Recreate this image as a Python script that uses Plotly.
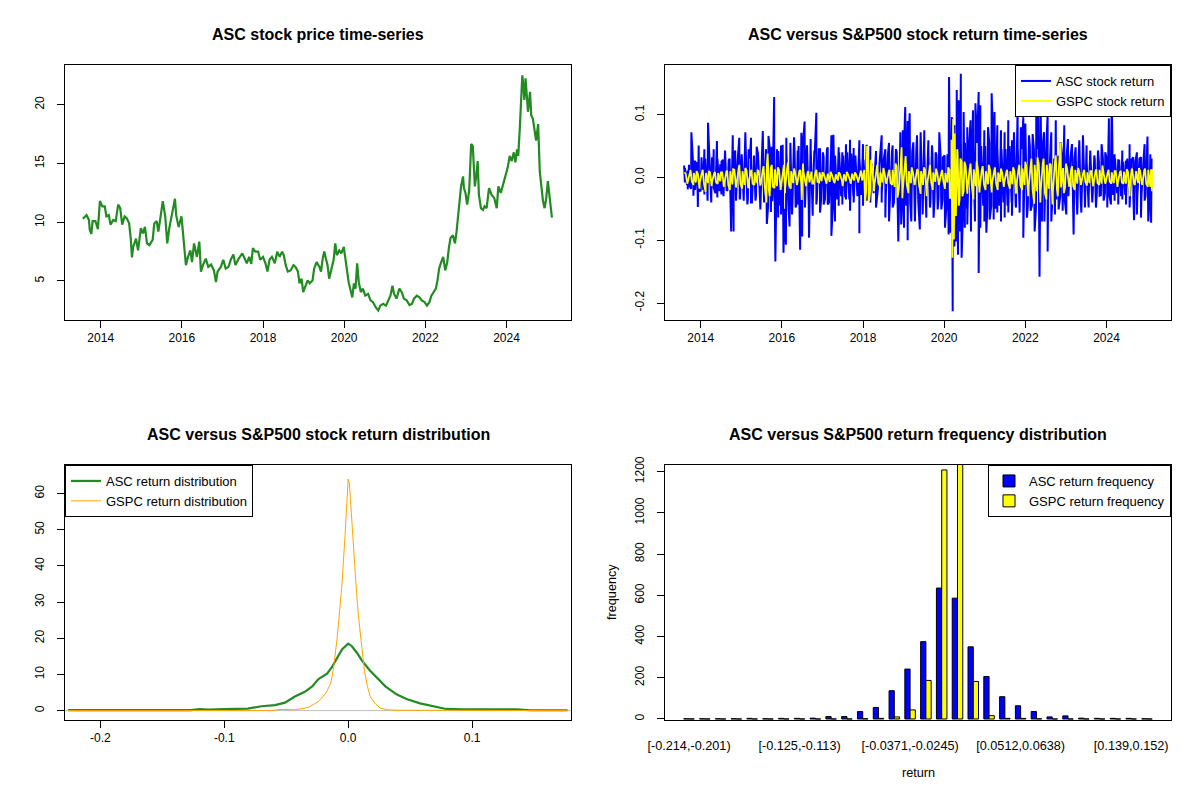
import numpy as np
import plotly.graph_objects as go

# ---- ASC closing price (decimal year, USD) ----
price_t = [2013.56, 2013.65, 2013.71, 2013.73, 2013.77, 2013.80, 2013.87, 2013.93, 2013.98, 2014.04,
           2014.10, 2014.14, 2014.20, 2014.24, 2014.31, 2014.37, 2014.43, 2014.48, 2014.53, 2014.59,
           2014.64, 2014.70, 2014.74, 2014.77, 2014.80, 2014.87, 2014.92, 2014.99, 2015.04, 2015.09,
           2015.14, 2015.20, 2015.28, 2015.32, 2015.38, 2015.42, 2015.47, 2015.53, 2015.59, 2015.64,
           2015.69, 2015.74, 2015.79, 2015.83, 2015.86, 2015.92, 2015.99, 2016.03, 2016.05, 2016.10,
           2016.15, 2016.21, 2016.25, 2016.30, 2016.37, 2016.43, 2016.47, 2016.52, 2016.59, 2016.65,
           2016.72, 2016.79, 2016.84, 2016.88, 2016.96, 2017.02, 2017.08, 2017.15, 2017.21, 2017.27,
           2017.32, 2017.40, 2017.49, 2017.54, 2017.60, 2017.66, 2017.71, 2017.75, 2017.81, 2017.88,
           2017.93, 2018.00, 2018.06, 2018.11, 2018.16, 2018.22, 2018.29, 2018.35, 2018.41, 2018.47,
           2018.51, 2018.56, 2018.61, 2018.68, 2018.75, 2018.80, 2018.86, 2018.90, 2018.95, 2018.99,
           2019.04, 2019.10, 2019.15, 2019.22, 2019.26, 2019.32, 2019.39, 2019.43, 2019.47, 2019.51,
           2019.55, 2019.59, 2019.63, 2019.69, 2019.74, 2019.78, 2019.82, 2019.88, 2019.93, 2019.99,
           2020.03, 2020.07, 2020.11, 2020.16, 2020.20, 2020.24, 2020.28, 2020.32, 2020.36, 2020.41,
           2020.46, 2020.52, 2020.59, 2020.65, 2020.71, 2020.78, 2020.84, 2020.89, 2020.96, 2021.03,
           2021.09, 2021.14, 2021.19, 2021.23, 2021.29, 2021.36, 2021.42, 2021.47, 2021.54, 2021.61,
           2021.67, 2021.72, 2021.79, 2021.86, 2021.91, 2021.98, 2022.04, 2022.10, 2022.15, 2022.20,
           2022.26, 2022.30, 2022.34, 2022.39, 2022.44, 2022.49, 2022.54, 2022.58, 2022.62, 2022.68,
           2022.73, 2022.77, 2022.81, 2022.84, 2022.88, 2022.93, 2022.95, 2022.99, 2023.03, 2023.08,
           2023.10, 2023.13, 2023.17, 2023.22, 2023.26, 2023.29, 2023.32, 2023.37, 2023.42, 2023.46,
           2023.51, 2023.57, 2023.63, 2023.70, 2023.76, 2023.80, 2023.86, 2023.92, 2023.97, 2024.03,
           2024.08, 2024.13, 2024.18, 2024.22, 2024.26, 2024.29, 2024.33, 2024.35, 2024.39, 2024.42,
           2024.44, 2024.47, 2024.50, 2024.53, 2024.58, 2024.61, 2024.65, 2024.69, 2024.73, 2024.78,
           2024.82, 2024.86, 2024.90, 2024.94, 2024.98, 2025.02, 2025.07, 2025.11, 2025.12]
price = [10.3, 10.6, 10.2, 9.35, 9.0, 10.1, 10.1, 9.4, 11.8, 11.35,
         11.35, 10.5, 10.6, 9.8, 10.2, 10.1, 11.5, 11.2, 9.8, 10.5,
         10.35, 9.9, 8.65, 7.0, 7.9, 8.6, 7.6, 9.5, 9.05, 9.6,
         8.2, 8.05, 8.5, 9.9, 10.1, 9.2, 10.35, 11.8, 10.5, 8.2,
         9.5, 10.5, 11.2, 12.0, 10.6, 9.6, 10.5, 8.9, 7.8, 6.35,
         7.05, 7.6, 6.6, 8.2, 7.05, 8.35, 5.8, 6.35, 6.9, 6.2,
         6.4, 5.9, 4.9, 5.8, 6.2, 6.8, 6.05, 6.2, 6.85, 7.25,
         6.35, 6.9, 7.35, 6.9, 6.5, 7.05, 6.45, 7.8, 7.5, 7.5,
         6.8, 7.05, 6.5, 5.8, 6.8, 7.05, 6.5, 7.5, 7.05, 7.5,
         7.2, 6.35, 5.8, 5.9, 6.35, 6.2, 5.8, 4.8, 5.2, 4.05,
         4.5, 5.05, 4.8, 5.05, 6.05, 6.6, 6.2, 5.8, 6.9, 7.5,
         6.9, 6.35, 5.2, 6.2, 6.8, 8.2, 7.2, 7.6, 7.35, 7.9,
         7.05, 5.9, 4.9, 4.05, 3.6, 4.8, 4.35, 6.5, 4.9, 4.05,
         4.35, 3.75, 3.9, 3.35, 3.2, 2.75, 2.5, 2.9, 3.05, 2.9,
         3.35, 3.75, 4.6, 3.9, 3.5, 4.35, 4.05, 3.5, 3.35, 2.95,
         3.05, 3.5, 3.75, 3.6, 3.35, 3.2, 2.9, 3.2, 3.75, 4.05,
         4.35, 5.05, 6.05, 6.6, 7.05, 5.9, 6.6, 7.8, 8.65, 8.9,
         8.2, 9.2, 10.6, 12.05, 13.05, 13.9, 12.9, 12.5, 11.5, 12.65,
         14.65, 16.65, 16.5, 13.05, 14.05, 15.2, 12.35, 11.2, 11.05, 11.35,
         11.2, 12.9, 12.35, 12.05, 11.2, 13.05, 12.5, 13.35, 14.05, 14.65,
         15.65, 15.2, 15.95, 15.1, 16.2, 15.65, 18.1, 19.65, 22.5, 21.5,
         20.4, 22.25, 21.0, 19.4, 21.1, 19.1, 18.8, 17.65, 16.95, 18.35,
         14.35, 13.05, 11.8, 11.2, 12.05, 13.5, 11.95, 10.5, 10.4]

# ---- daily returns: spikes (local highs / lows) ----
asc_hi_t = [2013.59, 2013.68, 2013.77, 2013.86, 2013.95, 2014.02, 2014.09, 2014.18, 2014.28, 2014.32,
            2014.40, 2014.48, 2014.55, 2014.60, 2014.69, 2014.79, 2014.85, 2014.95, 2015.01, 2015.10,
            2015.18, 2015.24, 2015.31, 2015.38, 2015.53, 2015.61, 2015.67, 2015.75, 2015.81, 2015.88,
            2015.98, 2016.02, 2016.11, 2016.21, 2016.30, 2016.39, 2016.48, 2016.56, 2016.62, 2016.71,
            2016.80, 2016.85, 2016.94, 2017.03, 2017.13, 2017.22, 2017.27, 2017.40, 2017.49, 2017.58,
            2017.68, 2017.77, 2017.91, 2018.00, 2018.09, 2018.18, 2018.32, 2018.46, 2018.55, 2018.64,
            2018.73, 2018.83, 2018.92, 2018.98, 2019.04, 2019.10, 2019.15, 2019.24, 2019.33, 2019.42,
            2019.51, 2019.61, 2019.70, 2019.79, 2019.88, 2019.97, 2020.08, 2020.12, 2020.19, 2020.25,
            2020.31, 2020.36, 2020.41, 2020.48, 2020.57, 2020.65, 2020.71, 2020.77, 2020.85, 2020.89,
            2020.99, 2021.08, 2021.17, 2021.24, 2021.31, 2021.40, 2021.49, 2021.58, 2021.67, 2021.72,
            2021.81, 2021.89, 2021.95, 2022.00, 2022.09, 2022.18, 2022.27, 2022.32, 2022.38, 2022.46,
            2022.55, 2022.64, 2022.75, 2022.87, 2022.96, 2023.05, 2023.15, 2023.24, 2023.33, 2023.42,
            2023.51, 2023.60, 2023.70, 2023.79, 2023.88, 2023.97, 2024.06, 2024.13, 2024.20, 2024.29,
            2024.39, 2024.48, 2024.57, 2024.66, 2024.75, 2024.85, 2024.94, 2025.01, 2025.08]
asc_hi = [0.019, 0.011, 0.072, 0.027, 0.051, 0.032, 0.045, 0.087, 0.032, 0.045,
          0.058, 0.021, 0.028, 0.043, 0.027, 0.067, 0.043, 0.063, 0.037, 0.072,
          0.045, 0.063, 0.032, 0.049, 0.074, 0.045, 0.066, 0.049, 0.128, 0.045,
          0.051, 0.052, 0.063, 0.055, 0.064, 0.043, 0.071, 0.089, 0.051, 0.061,
          0.043, 0.103, 0.045, 0.032, 0.048, 0.067, 0.068, 0.048, 0.040, 0.053,
          0.060, 0.047, 0.059, 0.053, 0.052, 0.050, 0.042, 0.067, 0.045, 0.055,
          0.051, 0.040, 0.072, 0.075, 0.112, 0.090, 0.102, 0.056, 0.067, 0.072,
          0.075, 0.059, 0.051, 0.040, 0.072, 0.032, 0.037, 0.160, 0.096, 0.083,
          0.139, 0.123, 0.165, 0.104, 0.080, 0.091, 0.107, 0.118, 0.136, 0.115,
          0.075, 0.080, 0.134, 0.104, 0.083, 0.075, 0.072, 0.091, 0.059, 0.072,
          0.112, 0.080, 0.096, 0.086, 0.067, 0.069, 0.102, 0.118, 0.099, 0.072,
          0.102, 0.072, 0.091, 0.056, 0.083, 0.061, 0.053, 0.048, 0.059, 0.067,
          0.051, 0.043, 0.035, 0.043, 0.053, 0.040, 0.094, 0.123, 0.037, 0.029,
          0.043, 0.027, 0.053, 0.032, 0.040, 0.032, 0.053, 0.065, 0.037]
asc_lo_t = [2013.61, 2013.68, 2013.72, 2013.82, 2013.93, 2014.00, 2014.09, 2014.17, 2014.26, 2014.32,
            2014.41, 2014.51, 2014.64, 2014.75, 2014.81, 2014.87, 2014.97, 2015.06, 2015.15, 2015.24,
            2015.35, 2015.47, 2015.56, 2015.63, 2015.73, 2015.77, 2015.84, 2015.91, 2015.98, 2016.04,
            2016.10, 2016.19, 2016.25, 2016.34, 2016.39, 2016.45, 2016.50, 2016.57, 2016.67, 2016.76,
            2016.85, 2016.94, 2017.03, 2017.13, 2017.22, 2017.31, 2017.40, 2017.49, 2017.58, 2017.68,
            2017.77, 2017.91, 2018.00, 2018.09, 2018.18, 2018.32, 2018.46, 2018.55, 2018.64, 2018.73,
            2018.87, 2018.94, 2019.01, 2019.10, 2019.19, 2019.28, 2019.40, 2019.47, 2019.56, 2019.65,
            2019.74, 2019.84, 2019.93, 2020.02, 2020.11, 2020.16, 2020.21, 2020.25, 2020.30, 2020.34,
            2020.39, 2020.43, 2020.51, 2020.57, 2020.66, 2020.76, 2020.85, 2020.89, 2020.99, 2021.04,
            2021.12, 2021.22, 2021.31, 2021.40, 2021.49, 2021.58, 2021.67, 2021.77, 2021.86, 2021.95,
            2022.04, 2022.13, 2022.23, 2022.35, 2022.41, 2022.47, 2022.55, 2022.64, 2022.73, 2022.82,
            2022.92, 2023.01, 2023.19, 2023.28, 2023.38, 2023.47, 2023.56, 2023.65, 2023.74, 2023.83,
            2023.93, 2024.02, 2024.11, 2024.20, 2024.29, 2024.39, 2024.48, 2024.57, 2024.68, 2024.75,
            2024.85, 2024.94, 2025.03, 2025.10]
asc_lo = [-0.008, -0.019, -0.013, -0.029, -0.047, -0.021, -0.027, -0.037, -0.040, -0.016,
          -0.032, -0.027, -0.021, -0.086, -0.086, -0.037, -0.032, -0.037, -0.043, -0.040,
          -0.037, -0.051, -0.037, -0.074, -0.055, -0.032, -0.134, -0.064, -0.059, -0.120,
          -0.107, -0.078, -0.059, -0.048, -0.043, -0.115, -0.094, -0.048, -0.096, -0.061,
          -0.043, -0.056, -0.043, -0.043, -0.093, -0.070, -0.045, -0.043, -0.035, -0.053,
          -0.040, -0.089, -0.045, -0.037, -0.040, -0.048, -0.040, -0.064, -0.070, -0.048,
          -0.102, -0.075, -0.080, -0.100, -0.070, -0.070, -0.083, -0.059, -0.064, -0.048,
          -0.064, -0.051, -0.051, -0.080, -0.091, -0.088, -0.213, -0.110, -0.102, -0.123,
          -0.086, -0.128, -0.080, -0.075, -0.086, -0.070, -0.152, -0.080, -0.070, -0.088,
          -0.067, -0.067, -0.056, -0.070, -0.064, -0.056, -0.061, -0.048, -0.056, -0.096,
          -0.064, -0.053, -0.086, -0.158, -0.070, -0.070, -0.118, -0.070, -0.059, -0.051,
          -0.053, -0.059, -0.091, -0.059, -0.056, -0.048, -0.048, -0.040, -0.048, -0.029,
          -0.037, -0.048, -0.043, -0.037, -0.043, -0.035, -0.043, -0.048, -0.068, -0.059,
          -0.064, -0.037, -0.070, -0.072]

gspc_hi_t = [2013.60, 2013.75, 2013.90, 2014.05, 2014.20, 2014.35, 2014.50, 2014.65, 2014.80, 2014.95,
             2015.10, 2015.25, 2015.40, 2015.55, 2015.65, 2015.75, 2015.90, 2016.05, 2016.15, 2016.30,
             2016.45, 2016.52, 2016.65, 2016.85, 2017.00, 2017.20, 2017.40, 2017.60, 2017.80, 2017.95,
             2018.10, 2018.20, 2018.35, 2018.50, 2018.65, 2018.80, 2018.95, 2019.05, 2019.20, 2019.35,
             2019.50, 2019.65, 2019.80, 2019.95, 2020.10, 2020.18, 2020.22, 2020.26, 2020.32, 2020.40,
             2020.50, 2020.65, 2020.80, 2020.95, 2021.10, 2021.25, 2021.40, 2021.55, 2021.70, 2021.85,
             2022.00, 2022.15, 2022.30, 2022.45, 2022.60, 2022.75, 2022.87, 2023.00, 2023.15, 2023.30,
             2023.45, 2023.60, 2023.75, 2023.90, 2024.05, 2024.20, 2024.35, 2024.50, 2024.62, 2024.80,
             2024.95, 2025.10]
gspc_hi = [0.008, 0.012, 0.010, 0.012, 0.010, 0.009, 0.008, 0.011, 0.013, 0.020,
           0.015, 0.012, 0.011, 0.018, 0.038, 0.020, 0.016, 0.020, 0.024, 0.014,
           0.012, 0.022, 0.010, 0.012, 0.008, 0.009, 0.008, 0.009, 0.008, 0.011,
           0.050, 0.028, 0.020, 0.015, 0.012, 0.022, 0.048, 0.034, 0.016, 0.013,
           0.016, 0.020, 0.014, 0.012, 0.016, 0.060, 0.093, 0.070, 0.045, 0.030,
           0.025, 0.022, 0.025, 0.018, 0.020, 0.016, 0.014, 0.012, 0.016, 0.020,
           0.025, 0.030, 0.032, 0.030, 0.022, 0.035, 0.055, 0.022, 0.018, 0.015,
           0.012, 0.010, 0.013, 0.019, 0.012, 0.010, 0.011, 0.013, 0.012, 0.015,
           0.014, 0.013]
gspc_lo_t = [2013.67, 2013.82, 2013.97, 2014.12, 2014.27, 2014.42, 2014.57, 2014.72, 2014.87, 2015.02,
             2015.17, 2015.32, 2015.47, 2015.62, 2015.70, 2015.82, 2015.97, 2016.08, 2016.22, 2016.37,
             2016.49, 2016.60, 2016.75, 2016.92, 2017.10, 2017.30, 2017.50, 2017.70, 2017.88, 2018.05,
             2018.15, 2018.27, 2018.42, 2018.57, 2018.72, 2018.85, 2018.97, 2019.12, 2019.27, 2019.42,
             2019.57, 2019.72, 2019.87, 2020.02, 2020.14, 2020.20, 2020.24, 2020.29, 2020.36, 2020.45,
             2020.57, 2020.72, 2020.87, 2021.02, 2021.17, 2021.32, 2021.47, 2021.62, 2021.77, 2021.92,
             2022.07, 2022.22, 2022.37, 2022.52, 2022.67, 2022.80, 2022.95, 2023.08, 2023.22, 2023.37,
             2023.52, 2023.67, 2023.82, 2023.97, 2024.12, 2024.27, 2024.42, 2024.57, 2024.70, 2024.87,
             2025.02, 2025.12]
gspc_lo = [-0.010, -0.012, -0.018, -0.023, -0.014, -0.010, -0.015, -0.020, -0.016, -0.018,
           -0.017, -0.012, -0.013, -0.040, -0.030, -0.017, -0.020, -0.025, -0.018, -0.012,
           -0.036, -0.014, -0.010, -0.008, -0.010, -0.009, -0.014, -0.010, -0.008, -0.041,
           -0.038, -0.022, -0.015, -0.010, -0.012, -0.032, -0.033, -0.025, -0.012, -0.026,
           -0.030, -0.020, -0.012, -0.018, -0.034, -0.128, -0.099, -0.060, -0.045, -0.030,
           -0.026, -0.035, -0.024, -0.020, -0.024, -0.020, -0.015, -0.018, -0.026, -0.020,
           -0.030, -0.042, -0.040, -0.035, -0.043, -0.030, -0.025, -0.015, -0.020, -0.012,
           -0.013, -0.014, -0.012, -0.010, -0.010, -0.015, -0.010, -0.030, -0.012, -0.010,
           -0.015, -0.022]

# ---- dense core band of the returns, sampled every 0.05 year from 2013.60 ----
band_start, band_step = 2013.60, 0.05
asc_band = [0.015, -0.012, 0.02, -0.018, 0.022, -0.02, 0.025, -0.022,
            0.025, -0.02, 0.03, -0.025, 0.022, -0.028, 0.02, -0.025, 0.03, -0.022,
            0.025, -0.03, 0.028, -0.02, 0.03, -0.025, 0.032, -0.03, 0.028, -0.035,
            0.035, -0.03, 0.04, -0.035, 0.03, -0.04, 0.035, -0.03, 0.038, -0.035,
            0.04, -0.04, 0.035, -0.045, 0.04, -0.038, 0.045, -0.04, 0.042, -0.045,
            0.045, -0.05, 0.04, -0.045, 0.05, -0.04, 0.045, -0.042, 0.05, -0.045,
            0.048, -0.04, 0.042, -0.045, 0.045, -0.04, 0.04, -0.035, 0.045, -0.04,
            0.04, -0.035, 0.045, -0.04, 0.038, -0.04, 0.035, -0.035, 0.04, -0.03,
            0.035, -0.032, 0.04, -0.035, 0.038, -0.03, 0.035, -0.03, 0.03, -0.028,
            0.028, -0.025, 0.025, -0.028, 0.022, -0.025, 0.025, -0.022, 0.028, -0.025,
            0.03, -0.028, 0.035, -0.032, 0.04, -0.04, 0.045, -0.042, 0.04, -0.045,
            0.05, -0.045, 0.045, -0.04, 0.04, -0.045, 0.042, -0.04, 0.035, -0.038,
            0.04, -0.035, 0.035, -0.04, 0.038, -0.035, 0.035, -0.032, 0.035, -0.035,
            0.035, -0.04, 0.05, -0.06, 0.07, -0.075, 0.065, -0.07, 0.06, -0.06,
            0.055, -0.05, 0.05, -0.055, 0.05, -0.05, 0.055, -0.05, 0.05, -0.045,
            0.05, -0.05, 0.055, -0.045, 0.05, -0.05, 0.045, -0.045, 0.045, -0.04,
            0.045, -0.045, 0.05, -0.04, 0.045, -0.045, 0.05, -0.045, 0.045, -0.05,
            0.045, -0.045, 0.05, -0.045, 0.045, -0.05, 0.045, -0.04, 0.04, -0.045,
            0.04, -0.035, 0.035, -0.035, 0.03, -0.035, 0.035, -0.03, 0.03, -0.03,
            0.03, -0.03, 0.032, -0.028, 0.03, -0.03, 0.028, -0.03, 0.028, -0.025,
            0.025, -0.028, 0.025, -0.025, 0.028, -0.025, 0.025, -0.028, 0.03, -0.025,
            0.028, -0.025, 0.03, -0.028, 0.03, -0.025, 0.028, -0.03, 0.025, -0.028,
            0.03, -0.025, 0.028, -0.03, 0.025, -0.028, 0.03, -0.03, 0.028, -0.03,
            0.03, -0.035, 0.03]
gspc_band = [0.006, -0.007, 0.008, -0.006, 0.007, -0.008, 0.006, -0.007,
             0.008, -0.01, 0.007, -0.009, 0.008, -0.007, 0.006, -0.008, 0.007, -0.006,
             0.008, -0.01, 0.009, -0.012, 0.01, -0.011, 0.012, -0.013, 0.012, -0.01,
             0.01, -0.012, 0.011, -0.01, 0.009, -0.01, 0.008, -0.009, 0.01, -0.011,
             0.012, -0.015, 0.02, -0.02, 0.015, -0.015, 0.013, -0.014, 0.012, -0.015,
             0.015, -0.018, 0.014, -0.012, 0.01, -0.009, 0.008, -0.01, 0.01, -0.012,
             0.01, -0.008, 0.007, -0.008, 0.009, -0.01, 0.008, -0.007, 0.008, -0.006,
             0.006, -0.005, 0.006, -0.007, 0.005, -0.006, 0.005, -0.005, 0.006, -0.005,
             0.005, -0.006, 0.005, -0.005, 0.006, -0.005, 0.005, -0.006, 0.006, -0.005,
             0.012, -0.02, 0.02, -0.018, 0.013, -0.012, 0.01, -0.009, 0.008, -0.008,
             0.007, -0.008, 0.008, -0.009, 0.012, -0.015, 0.018, -0.02, 0.022, -0.02,
             0.018, -0.012, 0.01, -0.009, 0.008, -0.01, 0.012, -0.011, 0.01, -0.012,
             0.012, -0.01, 0.009, -0.008, 0.008, -0.007, 0.007, -0.008, 0.007, -0.006,
             0.007, -0.008, 0.012, -0.015, 0.05, -0.06, 0.04, -0.035, 0.025, -0.022,
             0.018, -0.015, 0.014, -0.012, 0.013, -0.014, 0.015, -0.014, 0.013, -0.011,
             0.01, -0.011, 0.012, -0.01, 0.009, -0.009, 0.008, -0.007, 0.007, -0.008,
             0.008, -0.009, 0.01, -0.011, 0.01, -0.012, 0.012, -0.013, 0.014, -0.012,
             0.015, -0.016, 0.018, -0.02, 0.02, -0.022, 0.022, -0.02, 0.022, -0.024,
             0.02, -0.018, 0.02, -0.022, 0.024, -0.02, 0.018, -0.016, 0.015, -0.016,
             0.014, -0.013, 0.012, -0.014, 0.012, -0.01, 0.009, -0.008, 0.008, -0.007,
             0.008, -0.009, 0.01, -0.011, 0.01, -0.009, 0.012, -0.01, 0.009, -0.008,
             0.008, -0.007, 0.008, -0.009, 0.01, -0.009, 0.008, -0.008, 0.009, -0.01,
             0.009, -0.012, 0.014, -0.01, 0.01, -0.009, 0.01, -0.012, 0.011, -0.01,
             0.012, -0.015, 0.013]

# ---- kernel densities of returns ----
asc_dens_x = [-0.226, -0.127, -0.12, -0.113, -0.1, -0.081, -0.070, -0.059, -0.051, -0.043,
              -0.035, -0.029, -0.024, -0.017, -0.013, -0.009, -0.005, 0.0, 0.003, 0.007,
              0.011, 0.017, 0.024, 0.030, 0.039, 0.047, 0.058, 0.068, 0.079, 0.093,
              0.109, 0.136, 0.147, 0.177]
asc_dens = [0.15, 0.15, 0.4, 0.3, 0.4, 0.55, 1.2, 1.5, 2.2, 3.9,
            5.2, 6.7, 8.7, 10.2, 12.1, 14.4, 16.9, 18.5, 17.8, 16.0,
            13.9, 11.3, 8.7, 6.7, 4.5, 3.2, 2.0, 1.3, 0.45, 0.35,
            0.35, 0.35, 0.1, 0.1]
gspc_dens_x = [-0.226, -0.062, -0.055, -0.043, -0.032, -0.024, -0.018, -0.014, -0.012, -0.009,
               -0.0068, -0.0049, -0.0027, -0.0014, 0.0, 0.001, 0.0024, 0.004, 0.006, 0.008,
               0.0106, 0.013, 0.0155, 0.018, 0.022, 0.026, 0.032, 0.040, 0.177]
gspc_dens = [0.0, 0.0, 0.3, 0.2, 0.9, 2.5, 4.8, 7.6, 11.3, 19.7,
             28.0, 35.4, 47.5, 56.8, 64.0, 62.8, 55.0, 46.6, 36.4, 27.1,
             18.7, 11.3, 6.7, 3.7, 1.9, 0.65, 0.2, 0.1, 0.0]

# ---- return frequency table ----
bins = ["[-0.214,-0.201)", "[-0.201,-0.188)", "[-0.188,-0.176)", "[-0.176,-0.163)", "[-0.163,-0.151)",
        "[-0.151,-0.138)", "[-0.138,-0.125)", "[-0.125,-0.113)", "[-0.113,-0.1)", "[-0.1,-0.0876)",
        "[-0.0876,-0.075)", "[-0.075,-0.0623)", "[-0.0623,-0.0497)", "[-0.0497,-0.0371)", "[-0.0371,-0.0245)",
        "[-0.0245,-0.0119)", "[-0.0119,0.000716)", "[0.000716,0.0133)", "[0.0133,0.026)", "[0.026,0.0386)",
        "[0.0386,0.0512)", "[0.0512,0.0638)", "[0.0638,0.0764)", "[0.0764,0.089)", "[0.089,0.102)",
        "[0.102,0.114)", "[0.114,0.127)", "[0.127,0.139)", "[0.139,0.152)", "[0.152,0.165)"]
asc_freq = [1, 1, 1, 1, 3, 1, 3, 3, 4, 12, 12, 36, 56, 137, 242,
            375, 635, 586, 350, 206, 108, 64, 36, 10, 15, 4, 3, 3, 3, 1]
gspc_freq = [0, 0, 0, 0, 0, 0, 0, 0, 0, 0, 0, 1, 3, 10, 44,
             187, 1208, 1262, 182, 16, 3, 3, 1, 0, 0, 0, 0, 0, 0, 0]
shown_bins = [bins[i] for i in (0, 7, 14, 21, 28)]

FONT = "Liberation Sans, Arial, sans-serif"
W, H = 1200, 800
OX, OY = 8, 8   # the page body margin shifts the figure by this much


def px(x):
    return (x - OX) / W


def py(y):
    return 1 - (y - OY) / H


def merge(*parts):
    t = np.concatenate([np.asarray(p[0], float) for p in parts])
    v = np.concatenate([np.asarray(p[1], float) for p in parts])
    order = np.argsort(t, kind="stable")
    return t[order], v[order]


band_t = band_start + band_step * np.arange(len(asc_band))
asc_t, asc_r = merge((asc_hi_t, asc_hi), (asc_lo_t, asc_lo), (band_t + 0.012, asc_band))
gspc_t, gspc_r = merge((gspc_hi_t, gspc_hi), (gspc_lo_t, gspc_lo), (band_t + 0.03, gspc_band))

fig = go.Figure()

fig.add_trace(go.Scatter(x=price_t, y=price, mode="lines", xaxis="x", yaxis="y",
                         line=dict(color="#228B22", width=2.2), showlegend=False))

fig.add_trace(go.Scatter(x=asc_t, y=asc_r, mode="lines", xaxis="x2", yaxis="y2",
                         name="ASC stock return", legend="legend",
                         line=dict(color="#0000FF", width=2)))
fig.add_trace(go.Scatter(x=gspc_t, y=gspc_r, mode="lines", xaxis="x2", yaxis="y2",
                         name="GSPC stock return", legend="legend",
                         line=dict(color="#FFFF00", width=1.8)))

fig.add_trace(go.Scatter(x=asc_dens_x, y=asc_dens, mode="lines", xaxis="x3", yaxis="y3",
                         name="ASC return distribution", legend="legend2",
                         line=dict(color="#228B22", width=2.2)))
fig.add_trace(go.Scatter(x=gspc_dens_x, y=gspc_dens, mode="lines", xaxis="x3", yaxis="y3",
                         name="GSPC return distribution", legend="legend2",
                         line=dict(color="#FFA500", width=1)))

fig.add_trace(go.Bar(x=bins, y=asc_freq, xaxis="x4", yaxis="y4",
                     name="ASC return frequency", legend="legend3",
                     marker=dict(color="#0000FF", line=dict(color="black", width=1))))
fig.add_trace(go.Bar(x=bins, y=gspc_freq, xaxis="x4", yaxis="y4",
                     name="GSPC return frequency", legend="legend3",
                     marker=dict(color="#FFFF00", line=dict(color="black", width=1))))

# density zero line
fig.add_shape(type="line", xref="x3 domain", yref="y3", x0=0, x1=1, y0=0, y1=0,
              line=dict(color="#BEBEBE", width=1), layer="below")

left = [px(65), px(571)]
right = [px(665), px(1171)]
top = [py(320), py(65)]
bottom = [py(720), py(465)]

ax = dict(showline=True, mirror=True, linecolor="black", linewidth=1, ticks="outside",
          ticklen=7, tickcolor="black", showgrid=False, zeroline=False, automargin=False,
          tickfont=dict(size=12, color="black", family=FONT))
yax = dict(ax, tickangle=-90, ticklabelstandoff=8)

leg = dict(bgcolor="white", bordercolor="black", borderwidth=1,
           font=dict(size=13, color="black", family=FONT), itemwidth=30,
           tracegroupgap=0)

years = [2014, 2016, 2018, 2020, 2022, 2024]
rticks = [-0.2, -0.1, 0.0, 0.1]
rtext = ["-0.2", "-0.1", "0.0", "0.1"]

fig.update_layout(
    width=W, height=H,
    margin=dict(l=0, r=0, t=0, b=0),
    paper_bgcolor="white", plot_bgcolor="white",
    font=dict(family=FONT, color="black"),
    barmode="group", bargap=1 / 3, bargroupgap=0,
    xaxis=dict(ax, domain=left, anchor="y", range=[2013.12, 2025.59], tickvals=years),
    yaxis=dict(yax, domain=top, anchor="x", range=[1.68, 23.38], tickvals=[5, 10, 15, 20]),
    xaxis2=dict(ax, domain=right, anchor="y2", range=[2013.12, 2025.59], tickvals=years),
    yaxis2=dict(yax, domain=top, anchor="x2", range=[-0.227, 0.179],
                tickvals=rticks, ticktext=rtext),
    xaxis3=dict(ax, domain=left, anchor="y3", range=[-0.2285, 0.1798],
                tickvals=rticks, ticktext=rtext),
    yaxis3=dict(yax, domain=bottom, anchor="x3", range=[-2.6, 67.9],
                tickvals=[0, 10, 20, 30, 40, 50, 60]),
    xaxis4=dict(ax, domain=right, anchor="y4", type="category", range=[-1.52, 30.52],
                tickvals=shown_bins, ticks="", ticklabelstandoff=14,
                tickfont=dict(size=12.7, color="black", family=FONT)),
    yaxis4=dict(yax, domain=bottom, anchor="x4", range=[-5, 1232],
                tickvals=[0, 200, 400, 600, 800, 1000, 1200]),
    legend=dict(leg, x=px(1171), y=py(65), xanchor="right", yanchor="top"),
    legend2=dict(leg, x=px(65), y=py(465), xanchor="left", yanchor="top"),
    legend3=dict(leg, x=px(1171), y=py(465), xanchor="right", yanchor="top"),
)

titles = [
    ("ASC stock price time-series", 318, 35),
    ("ASC versus S&P500 stock return time-series", 918, 35),
    ("ASC versus S&P500 stock return distribution", 318, 435),
    ("ASC versus S&P500 return frequency distribution", 918, 435),
]
for text, tx, ty in titles:
    fig.add_annotation(text="<b>%s</b>" % text.replace("&", "&amp;"), xref="paper", yref="paper",
                       x=px(tx), y=py(ty), xanchor="center", yanchor="middle", showarrow=False,
                       font=dict(size=16, color="black", family=FONT))

fig.add_annotation(text="return", xref="paper", yref="paper", x=px(918), y=py(773),
                   xanchor="center", yanchor="middle", showarrow=False,
                   font=dict(size=12.7, color="black", family=FONT))
fig.add_annotation(text="frequency", xref="paper", yref="paper", x=px(612), y=py(592),
                   xanchor="center", yanchor="middle", showarrow=False, textangle=-90,
                   font=dict(size=12.7, color="black", family=FONT))

fig.write_html("out.html")
